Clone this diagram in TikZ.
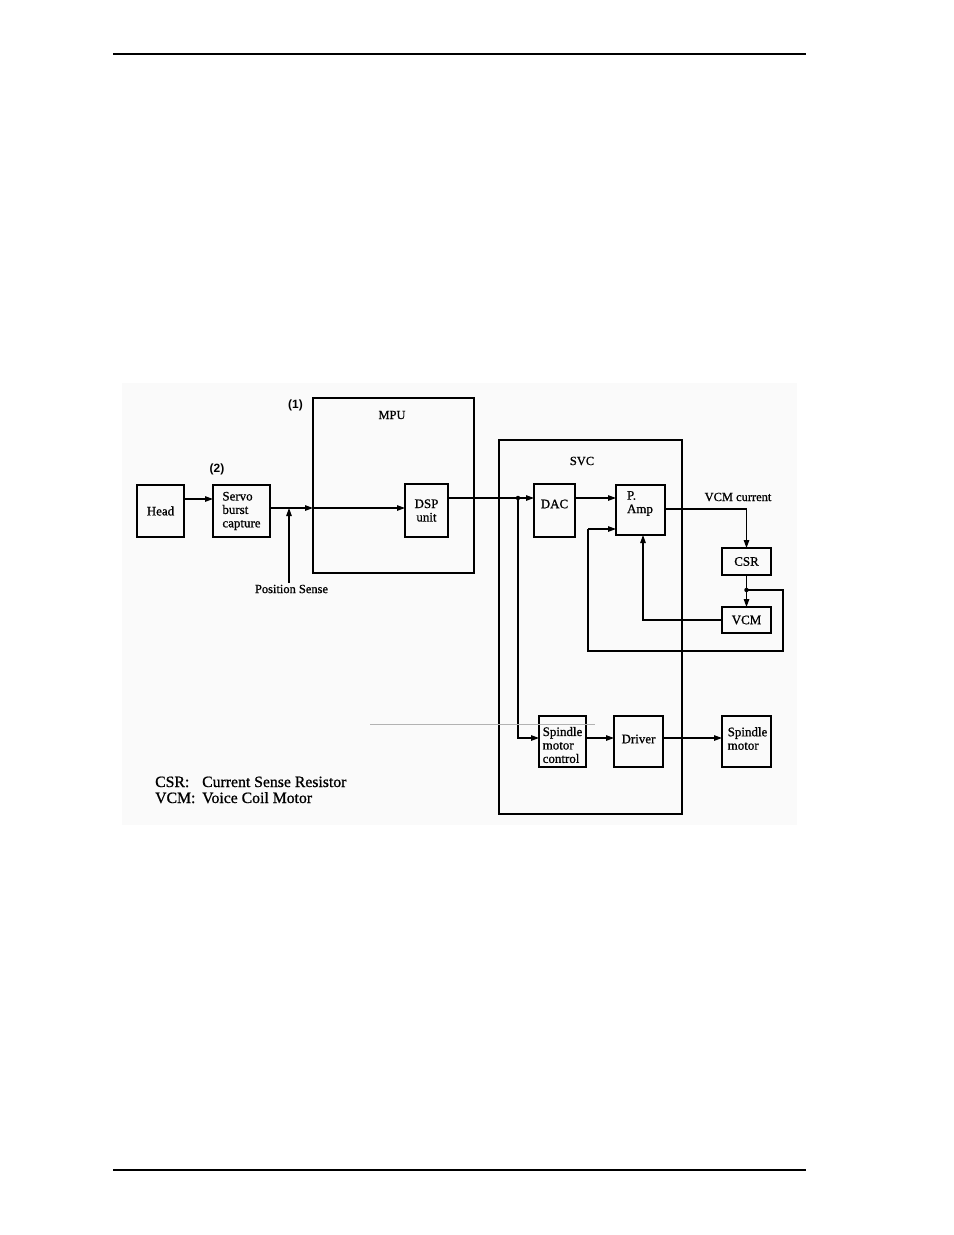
\documentclass[tikz,border=0pt]{standalone}
\usepackage{fontspec}
\setmainfont{Liberation Serif}
\newfontfamily\scan{Liberation Serif}[FakeBold=0.9]
\newfontfamily\sansb{Liberation Sans Bold}
\usetikzlibrary{arrows.meta}
\begin{document}
\begin{tikzpicture}[x=1bp,y=-1bp,
  blk/.style={draw, line width=1.8bp, inner sep=0pt, outer sep=0pt},
  big/.style={draw, line width=1.8bp, inner sep=0pt, outer sep=0pt},
  txt/.style={inner sep=0pt, font=\scan\fontsize{12.5}{13.5}\selectfont, align=center},
  btxt/.style={txt, font=\scan\fontsize{13}{13.5}\selectfont},
  btxtl/.style={btxt, align=left},
  numlbl/.style={inner sep=0pt, font=\sansb\fontsize{12}{14}\selectfont},
  legend/.style={anchor=base west, inner sep=0pt, font=\scan\fontsize{15.8}{17}\selectfont},
  wire/.style={line width=1.2bp},
  arr/.style={wire, -{Triangle[length=8bp,width=5.5bp]}},
  jdot/.style={circle, fill, inner sep=0pt, minimum size=4.5bp},
  rule/.style={line width=1.3bp}]

\useasboundingbox (0,0) rectangle (954,1235);
\fill[black!2] (122,383) rectangle (797,825);

% page rules
\draw[rule] (113,54) -- (806,54);
\draw[rule] (113,1170) -- (806,1170);

% big boxes
\node[big, minimum width=161bp, minimum height=175bp] (mpu) at (393.5,485.5) {};
\node[big, minimum width=183bp, minimum height=374bp] (svc) at (590.5,627) {};
\node[txt] (mpulbl) at (392,415) {MPU};
\node[txt] (svclbl) at (582,461) {SVC};
\node[numlbl] (n1) at (295.5,405) {(1)};
\node[numlbl] (n2) at (217,469) {(2)};

% blocks
\node[blk, btxt, minimum width=47bp, minimum height=52bp] (head) at (160.5,511) {Head};
\node[blk, btxtl, minimum width=57bp, minimum height=52bp] (servo) at (241.5,511) {Servo\\burst\\capture};
\node[blk, btxt, minimum width=43bp, minimum height=53bp] (dsp) at (426.5,510.5) {DSP\\unit};
\node[blk, minimum width=41bp, minimum height=53bp] (dac) at (554.5,510.5) {};
\node[btxt] (dactxt) at (554.5,504) {DAC};
\node[blk, minimum width=49bp, minimum height=50bp] (pamp) at (640.5,510) {};
\node[btxtl] (pamptxt) at (640,503.5) {P.\\Amp};
\node[blk, btxt, minimum width=49bp, minimum height=27bp] (csr) at (746.5,561.5) {CSR};
\node[blk, btxt, minimum width=49bp, minimum height=26bp] (vcm) at (746.5,620) {VCM};
\node[blk, minimum width=47bp, minimum height=51bp] (smc) at (562.5,741.5) {};
\node[btxtl] (smctxt) at (562.5,745) {Spindle\\motor\\control};
\node[blk, minimum width=49bp, minimum height=51bp] (drv) at (638.5,741.5) {};
\node[btxt] (drvtxt) at (638.5,739) {Driver};
\node[blk, minimum width=49bp, minimum height=51bp] (spm) at (746.5,741.5) {};
\node[btxtl] (spmtxt) at (747.5,738.5) {Spindle\\motor};

% labels
\node[txt, inner sep=2bp] (pos) at (291.5,589) {Position Sense};
\node[txt] (vcmcur) at (738,497) {VCM current};

% coordinates
\coordinate (hs) at (200,499);
\coordinate (ps) at (289,508);
\coordinate (j) at (518,498);
\coordinate (vc) at (746.5,509);
\coordinate (d2) at (746.5,590);
\coordinate (lr) at (783,651);
\coordinate (ll) at (588,529);
\coordinate (fb) at (643,620);
\coordinate (sj) at (518,738);

% connectors
\draw[arr] (head.east |- hs) -- (servo.west |- hs);
\draw[wire] (servo.east |- ps) -- (ps);
\draw[arr] (ps) -- (mpu.west |- ps);
\draw[arr] (mpu.west |- ps) -- (dsp.west |- ps);
\draw[arr] (ps |- pos.north) -- (ps);
\draw[wire] (dsp.east |- j) -- (j);
\draw[arr] (j) -- (dac.west |- j);
\draw[arr] (dac.east |- j) -- (pamp.west |- j);
\draw[arr] (pamp.east |- vc) -- (vc) -- (csr.north);
\draw[arr] (csr.south) -- (vcm.north);
\draw[wire] (d2) -| (lr) -| (ll);
\draw[arr] (ll) -- (pamp.west |- ll);
\draw[arr] (vcm.west) -- (fb) -- (fb |- pamp.south);
\draw[arr] (j) -- (sj) -- (smc.west |- sj);
\draw[arr] (smc.east |- sj) -- (drv.west |- sj);
\draw[arr] (drv.east |- sj) -- (spm.west |- sj);
\node[jdot] (jd) at (j) {};
\node[jdot] (d2d) at (d2) {};

% faint scan line
\draw[black!30, line width=0.6bp] (370,724) -- (595,724);

% legend
\node[legend] (leg1) at (155,787) {\makebox[47bp][l]{CSR:}Current Sense Resistor};
\node[legend] (leg2) at (155,803) {\makebox[47bp][l]{VCM:}Voice Coil Motor};
\end{tikzpicture}
\end{document}
